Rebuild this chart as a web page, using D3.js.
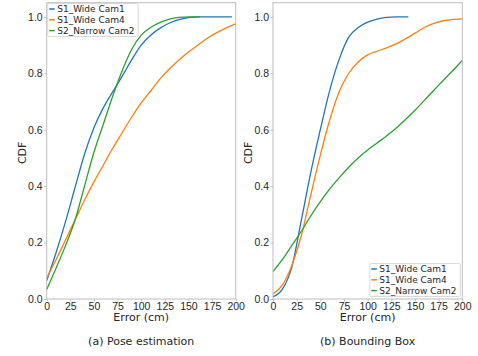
<!DOCTYPE html>
<html>
<head>
<meta charset="utf-8">
<script src="https://cdn.jsdelivr.net/npm/d3@7"></script>
<style>
  html, body { margin: 0; padding: 0; background: #fff; }
  svg { display: block; font-family: "DejaVu Sans", sans-serif; }
</style>
</head>
<body>
<svg id="chart" width="478" height="356"></svg>
<script>
// Error grid (cm) shared by the sampled CDF curves
const errorsA = [0, 10, 20, 30, 40, 50, 60, 70, 80, 90, 100, 110, 120, 130, 140, 150, 160, 170, 180, 190, 200];

// (a) Pose estimation
const poseCam1X = [0, 10, 20, 30, 40, 50, 60, 70, 80, 90, 100, 110, 120, 130, 140, 150, 160, 196];
const poseCam1Y = [0.065, 0.165, 0.275, 0.395, 0.513, 0.607, 0.678, 0.735, 0.79, 0.848, 0.90, 0.935, 0.96, 0.978, 0.99, 0.997, 1.0, 1.0];
const poseCam4X = errorsA;
const poseCam4Y = [0.075, 0.14, 0.21, 0.28, 0.35, 0.415, 0.475, 0.535, 0.59, 0.645, 0.695, 0.737, 0.78, 0.816, 0.847, 0.875, 0.90, 0.924, 0.944, 0.961, 0.975];
const poseCam2X = [0, 10, 20, 30, 40, 50, 60, 70, 80, 90, 100, 110, 120, 130, 140, 150, 162];
const poseCam2Y = [0.034, 0.11, 0.19, 0.28, 0.40, 0.52, 0.62, 0.72, 0.81, 0.885, 0.935, 0.962, 0.98, 0.992, 0.998, 1.0, 1.0];

// (b) Bounding Box
const boxCam1X = [0, 10, 20, 30, 40, 50, 60, 70, 80, 90, 100, 110, 120, 130, 143];
const boxCam1Y = [0.008, 0.035, 0.115, 0.28, 0.45, 0.60, 0.74, 0.85, 0.928, 0.962, 0.981, 0.992, 0.998, 1.0, 1.0];
const boxCam4X = errorsA;
const boxCam4Y = [0.018, 0.05, 0.12, 0.225, 0.37, 0.51, 0.635, 0.735, 0.80, 0.84, 0.865, 0.878, 0.89, 0.904, 0.922, 0.942, 0.962, 0.977, 0.986, 0.991, 0.993];
const boxCam2X = errorsA;
const boxCam2Y = [0.097, 0.14, 0.19, 0.24, 0.295, 0.345, 0.39, 0.43, 0.467, 0.50, 0.528, 0.553, 0.578, 0.605, 0.636, 0.669, 0.704, 0.74, 0.775, 0.81, 0.845];

const seriesNames = ["S1_Wide Cam1", "S1_Wide Cam4", "S2_Narrow Cam2"];
const seriesColors = ["#1f77b4", "#ff7f0e", "#2ca02c"];
const xTicks = [0, 25, 50, 75, 100, 125, 150, 175, 200];
const yTicks = [0.0, 0.2, 0.4, 0.6, 0.8, 1.0];
const captions = ["(a) Pose estimation", "(b) Bounding Box"];

const panels = [
  { left: 46.7, right: 235.7, caption: captions[0], legend: "top-left",
    series: [[poseCam1X, poseCam1Y], [poseCam4X, poseCam4Y], [poseCam2X, poseCam2Y]] },
  { left: 273, right: 462.3, caption: captions[1], legend: "bottom-right",
    series: [[boxCam1X, boxCam1Y], [boxCam4X, boxCam4Y], [boxCam2X, boxCam2Y]] }
];

const svg = d3.select("#chart");
const plotTop = 2.7, plotBottom = 299;
const spine = "#bdbdbd";
const textColor = "#262626";

panels.forEach(p => {
  const x = d3.scaleLinear().domain([0, 200]).range([p.left, p.right]);
  const y = d3.scaleLinear().domain([0, 1.05]).range([plotBottom, plotTop]);
  const g = svg.append("g");

  // curves
  const line = d3.line().x(d => x(d[0])).y(d => y(d[1])).curve(d3.curveMonotoneX);
  p.series.forEach((s, i) => {
    const pts = s[0].map((v, k) => [v, s[1][k]]);
    g.append("path").datum(pts)
      .attr("d", line)
      .attr("fill", "none")
      .attr("stroke", seriesColors[i])
      .attr("stroke-width", 1.3);
  });

  // axes
  const xAxis = d3.axisBottom(x).tickValues(xTicks).tickFormat(d3.format("d")).tickSize(2.5).tickPadding(1.5);
  const yAxis = d3.axisLeft(y).tickValues(yTicks).tickFormat(d3.format(".1f")).tickSize(2.5).tickPadding(1.5);
  const gx = g.append("g").attr("transform", `translate(0,${plotBottom})`).call(xAxis);
  const gy = g.append("g").attr("transform", `translate(${p.left},0)`).call(yAxis);
  [gx, gy].forEach(a => {
    a.select(".domain").remove();
    a.selectAll(".tick line").attr("stroke", spine);
    a.selectAll(".tick text").attr("fill", textColor).style("font-size", "10.5px");
  });

  // frame
  g.append("rect")
    .attr("x", p.left).attr("y", plotTop)
    .attr("width", p.right - p.left).attr("height", plotBottom - plotTop)
    .attr("fill", "none").attr("stroke", spine).attr("stroke-width", 1);

  // axis labels
  const cx = (p.left + p.right) / 2;
  g.append("text").attr("x", cx).attr("y", 321)
    .attr("text-anchor", "middle").attr("fill", textColor).style("font-size", "11px")
    .text("Error (cm)");
  g.append("text")
    .attr("transform", `translate(${p.left - 21},${(plotTop + plotBottom) / 2 + 2}) rotate(-90)`)
    .attr("text-anchor", "middle").attr("fill", textColor).style("font-size", "11px")
    .text("CDF");
  g.append("text").attr("x", cx).attr("y", 344.5)
    .attr("text-anchor", "middle").attr("fill", textColor).style("font-size", "11px")
    .text(p.caption);

  // legend
  const lw = 90.5, lh = 33;
  const lx = p.legend === "top-left" ? p.left + 1 : p.right - lw - 2;
  const ly = p.legend === "top-left" ? plotTop + 0.8 : plotBottom - lh - 2.5;
  const lg = g.append("g").attr("transform", `translate(${lx},${ly})`);
  lg.append("rect").attr("width", lw).attr("height", lh).attr("rx", 1.5)
    .attr("fill", "#fff").attr("fill-opacity", 0.85).attr("stroke", "#d0d0d0").attr("stroke-width", 0.8);
  seriesNames.forEach((name, i) => {
    const yy = 5.5 + i * 10.8;
    lg.append("line").attr("x1", 1.5).attr("x2", 7).attr("y1", yy).attr("y2", yy)
      .attr("stroke", seriesColors[i]).attr("stroke-width", 1.5);
    lg.append("text").attr("x", 9.5).attr("y", yy + 3.3)
      .attr("fill", textColor).style("font-size", "9px").text(name);
  });
});
</script>
</body>
</html>
